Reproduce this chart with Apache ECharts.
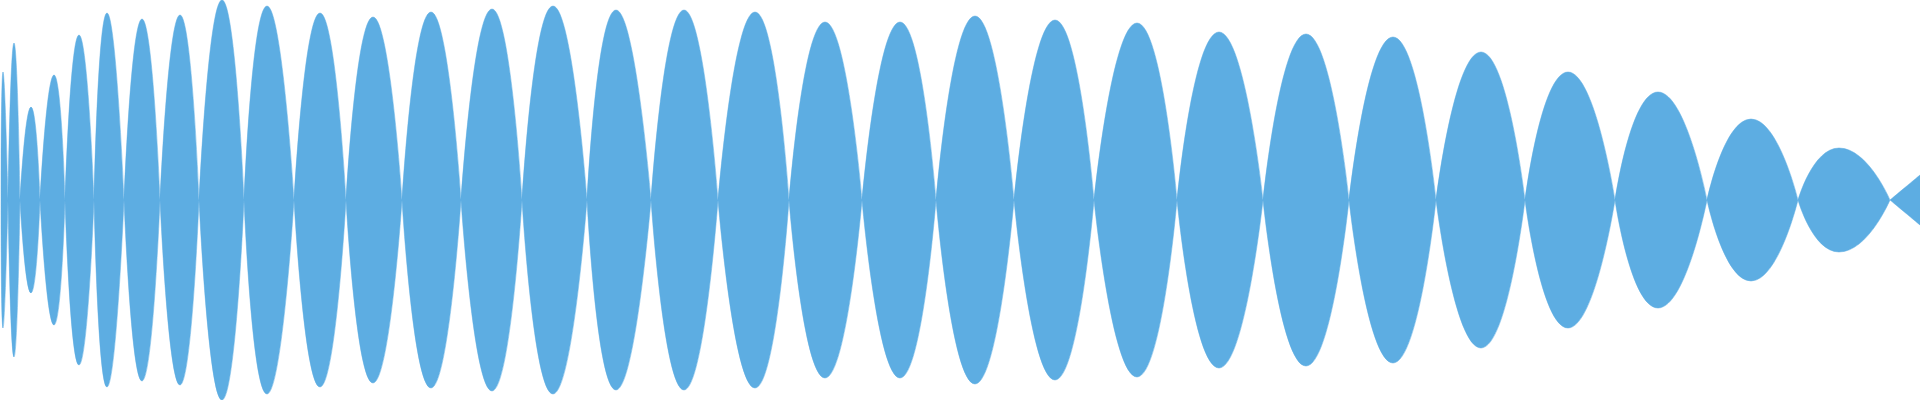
<!DOCTYPE html>
<html>
<head>
<meta charset="utf-8">
<script src="https://cdn.jsdelivr.net/npm/echarts@6/dist/echarts.min.js"></script>
<style>
  html, body { margin: 0; padding: 0; background: #fff; }
  #chart { width: 1920px; height: 400px; }
</style>
</head>
<body>
<div id="chart"></div>
<script>
// zero crossings of the envelope (x position)
const crossings = [1, 8, 20, 40, 65, 94, 124, 160, 199, 244, 294, 346, 402, 461, 522, 587,
  651, 718, 789, 862, 936, 1014, 1094, 1177, 1263, 1349, 1436, 1525, 1615, 1707, 1798, 1890];
// peak position and height of each lobe
const peakX = [3, 14, 31, 54, 79, 107, 142, 180, 222, 267, 320, 373, 431, 492, 553, 616,
  684, 755, 825, 900, 975, 1055, 1137, 1219, 1306, 1393, 1481, 1568, 1658, 1751, 1839];
const peakAmp = [128, 157, 93, 125, 165, 187, 181, 185, 200, 194, 187, 183, 188, 191, 194, 190,
  190, 188, 178, 178, 184, 180, 177, 168, 166, 163, 148, 128, 108, 81, 52];
// last partial lobe, cut off at the right edge
const tailX = [1890, 1920];
const tailAmp = [0, 25];

const chart = echarts.init(document.getElementById("chart"));

function lobes(sign) {
  const pts = [];
  for (let i = 0; i < peakX.length; i++) {
    const a = crossings[i], b = crossings[i + 1];
    pts.push([a, 0], [peakX[i], peakAmp[i] * sign], [b, 0], [b, null]);
  }
  tailX.forEach((x, i) => pts.push([x, tailAmp[i] * sign]));
  return pts;
}

function makeSeries(sign) {
  return {
    type: "line",
    data: lobes(sign),
    smooth: 0.6,
    showSymbol: false,
    connectNulls: false,
    lineStyle: { width: 0.5, color: "#5dade2" },
    areaStyle: { color: "#5dade2", opacity: 1, origin: 0 },
    silent: true,
  };
}

chart.setOption({
  animation: false,
  grid: { left: 0, right: 0, top: 0, bottom: 0 },
  xAxis: { type: "value", min: 0, max: 1920, show: false },
  yAxis: { type: "value", min: -200, max: 200, show: false },
  series: [makeSeries(1), makeSeries(-1)],
});
</script>
</body>
</html>
